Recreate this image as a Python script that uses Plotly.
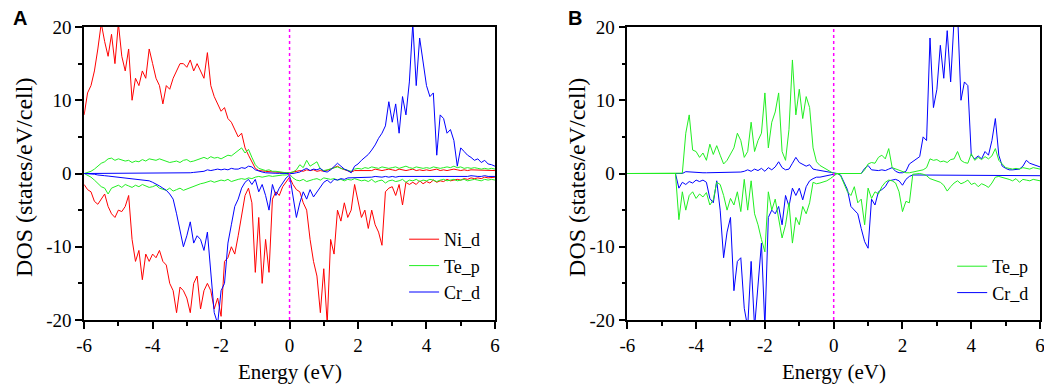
import plotly.graph_objects as go
from plotly.subplots import make_subplots

# Energy grid (eV), 0.1 eV steps from -6 to 6
energy = [round(-6 + 0.1 * i, 1) for i in range(121)]

# ---------- Panel A ----------
ni_d_up_A = [
    8, 11, 12, 14, 17, 20.5, 18, 16, 19, 15,
    20.5, 16, 14, 17, 10, 13, 12, 14, 13, 17,
    15, 13, 12, 9.5, 12, 11.5, 13, 14, 15, 15,
    14.5, 15.5, 14, 15, 14, 13, 16.5, 12, 10.5, 9.5,
    8.5, 9, 7.5, 7, 6, 5, 5.5, 3.5, 2.5, 1.5,
    0.7, 0.4, 0.3, 0.3, 0.25, 0.2, 0.2, 0.2, 0.15, 0.1,
    0.1, 0.2, 0.3, 0.4, 0.3, 0.5, 0.4, 0.5, 0.3, 0.4,
    0.3, 0.4, 0.6, 0.8, 1.0, 0.7, 0.5, 0.4, 0.2, 0.4,
    0.4, 0.5, 0.4, 0.5, 0.4, 0.6, 0.5, 0.4, 0.5, 0.6,
    0.5, 0.4, 0.6, 0.5, 0.4, 0.5, 0.6, 0.4, 0.5, 0.4,
    0.5, 0.4, 0.5, 0.6, 0.4, 0.5, 0.4, 0.5, 0.6, 0.5,
    0.4, 0.5, 0.4, 0.5, 0.5, 0.4, 0.5, 0.4, 0.4, 0.5,
    0.4,
]
ni_d_dn_A = [
    -1.5, -2.2, -2.5, -3.8, -4.2, -3.5, -2.8, -4.5, -5.5, -6,
    -5, -5.2, -4.5, -3, -9, -12, -10.5, -14.5, -11, -12,
    -11, -11.5, -10.5, -12, -12.5, -15, -16, -19, -15.5, -16,
    -17, -19, -15, -14, -18.5, -16, -15, -16, -18.5, -17,
    -19.5, -12, -11.5, -10, -11, -8.5, -6, -3, -2, -4,
    -13.5, -6, -15, -9, -13.5, -3.5, -2.5, -3, -1.8, -1.2,
    -0.5, -1.5, -2.2, -2.5, -4, -5, -9, -12, -14, -19,
    -13, -20.5, -9, -11, -5, -6.5, -4, -6, -5, -1.5,
    -4, -6, -5, -7.5, -5, -7, -8, -9.8, -2.5, -2,
    -1.8, -3, -1.5, -4.3, -1.2, -1.5, -1.2, -1.5, -1, -1.4,
    -1.1, -1.3, -0.9, -1.2, -1.0, -1.1, -0.8, -1.0, -0.9, -0.8,
    -0.9, -0.7, -0.8, -0.6, -0.7, -0.6, -0.7, -0.5, -0.6, -0.5,
    -0.5,
]
te_p_up_A = [
    0, 0.1, 0.3, 0.6, 1.0, 1.4, 1.6, 2.0, 2.1, 1.8,
    2.0, 1.9, 1.7, 1.8, 1.5, 1.7, 1.6, 1.9, 1.7, 2.0,
    1.9, 1.8, 2.0, 1.8, 1.6, 1.5, 1.6, 1.7, 1.5, 1.8,
    1.9, 1.6, 1.7, 1.9, 2.0, 2.2, 2.0, 2.3, 2.1, 2.2,
    2.0, 2.3, 2.5, 2.4, 2.8, 3.2, 3.5, 2.8, 3.3, 2.2,
    1.2, 0.7, 0.5, 0.4, 0.5, 0.3, 0.3, 0.2, 0.2, 0.1,
    0.1, 0.2, 0.5, 1.2, 0.8, 1.8, 1.0, 1.3, 1.6, 0.6,
    0.4, 0.5, 0.6, 0.8, 0.9, 0.7, 0.6, 0.4, 0.3, 0.6,
    0.7, 0.6, 0.8, 0.7, 0.9, 0.8, 0.7, 0.9, 0.8, 0.7,
    0.8, 0.9, 0.7, 0.8, 1.0, 0.8, 0.7, 0.9, 0.8, 0.7,
    0.8, 0.7, 0.9, 0.8, 0.7, 0.8, 0.9, 0.8, 1.0, 0.8,
    0.9, 0.7, 0.8, 0.7, 0.8, 0.7, 0.6, 0.7, 0.6, 0.7,
    0.6,
]
te_p_dn_A = [
    0, -0.2, -0.5, -0.9, -1.3, -1.8, -2.0, -2.8, -2.0, -1.8,
    -1.6, -1.9, -1.5, -1.7, -1.9, -1.6, -1.8, -1.5, -1.7, -1.9,
    -1.8, -1.6, -2.0, -2.1, -2.3, -2.0, -2.4, -2.2, -2.0, -2.3,
    -2.1, -1.9, -1.8, -1.6, -1.4, -1.3, -1.2, -1.0, -1.2, -1.1,
    -0.9, -1.0, -0.8, -1.1, -0.9, -0.8, -0.7, -0.8, -0.6, -0.7,
    -0.5, -0.4, -0.5, -0.4, -0.3, -0.4, -0.3, -0.3, -0.2, -0.2,
    -0.1, -0.6, -0.9, -1.0, -0.8, -1.1, -0.9, -0.8, -0.7, -0.9,
    -0.6, -0.7, -0.8, -0.7, -0.9, -0.8, -1.0, -0.8, -0.9, -0.7,
    -0.8, -1.0, -0.9, -1.1, -0.8, -1.2, -1.0, -0.9, -1.3, -1.0,
    -0.9, -1.1, -1.0, -0.8, -1.2, -0.9, -1.0, -0.8, -1.1, -0.9,
    -1.0, -0.8, -0.9, -1.1, -0.9, -0.8, -1.0, -0.9, -0.8, -1.0,
    -0.9, -0.8, -1.0, -0.9, -0.8, -0.9, -1.0, -0.8, -0.9, -0.8,
    -0.9,
]
cr_d_up_A = [
    0, 0, 0, 0, 0, 0, 0, 0, 0, 0,
    0, 0, 0.02, 0.02, 0.03, 0.03, 0.04, 0.04, 0.05, 0.05,
    0.05, 0.05, 0.06, 0.06, 0.07, 0.07, 0.08, 0.08, 0.09, 0.1,
    0.1, 0.1, 0.15, 0.2, 0.3, 0.3, 0.5, 0.4, 0.5, 0.6,
    0.5, 0.6, 0.5, 0.7, 0.6, 0.6, 0.8, 0.7, 1.0, 0.9,
    0.5, 0.3, 0.2, 0.1, 0.05, 0.05, 0.03, 0.02, 0.01, 0,
    0, 0, 0.1, 0.2, 0.5, 0.7, 0.4, 0.6, 0.5, 0.7,
    0.3, 0.2, 0.5, 0.9, 1.4, 1.0, 0.6, 0.4, 0.1, 1.0,
    1.3, 1.8, 2.2, 2.6, 3.2, 3.9, 4.8, 5.5, 6.5, 9.8,
    7.0, 9.5, 5.5, 10.5, 8.0, 12.5, 20.5, 12, 18.5, 15,
    12, 10.5, 11, 2.5, 8, 7.5, 5.5, 6, 4.5, 1,
    3.5, 3, 2.5, 2.2, 1.8, 2.0, 1.5, 1.8, 1.3, 1.2,
    1.0,
]
cr_d_dn_A = [
    0, 0, -0.05, -0.1, -0.2, -0.3, -0.3, -0.35, -0.4, -0.5,
    -0.5, -0.6, -0.6, -0.7, -0.7, -0.8, -0.8, -0.9, -0.9, -1.0,
    -1.2, -1.4, -1.7, -2.0, -2.3, -2.8, -3.5, -5.5, -8, -10,
    -8.5, -6.6, -9.5, -8.5, -9, -10.5, -8, -14, -19, -20.5,
    -16, -15, -9.5, -7, -4.5, -3.5, -2, -1.2, -0.8, -1.5,
    -0.8, -2.5, -1.5, -3, -5, -1.5, -3, -2, -1.2, -0.6,
    -0.2, -3, -6, -4, -2.5, -3.5, -2.2, -3.2, -2.5, -1.8,
    -1.2, -0.9, -1.3, -0.8, -0.9, -0.7, -0.8, -0.6, -0.6, -0.5,
    -0.5, -0.5, -0.6, -0.5, -0.5, -0.4, -0.5, -0.5, -0.4, -0.5,
    -0.4, -0.5, -0.4, -0.4, -0.5, -0.4, -0.4, -0.5, -0.4, -0.4,
    -0.4, -0.4, -0.5, -0.4, -0.4, -0.4, -0.5, -0.4, -0.4, -0.4,
    -0.4, -0.4, -0.4, -0.3, -0.4, -0.4, -0.4, -0.3, -0.4, -0.4,
    -0.4,
]

# ---------- Panel B ----------
te_p_up_B = [
    0, 0, 0, 0, 0, 0, 0, 0, 0, 0,
    0, 0, 0, 0, 0, 0, 0.05, 5.5, 8, 3.2,
    3.0, 2.2, 2.8, 1.8, 4.0, 2.6, 3.8, 2.5, 1.3, 1.8,
    2.6, 3.5, 5.5, 4.5, 2.2, 3.0, 7, 3, 4.5, 5.5,
    11, 3.5, 7, 8.4, 11, 3, 1.8, 6, 15.5, 8,
    11.5, 7.5, 10.5, 9, 3.5, 1.6, 1.1, 0.8, 0.5, 0.3,
    0, 0, 0, 0, 0, 0, 0, 0, 0, 0.5,
    1.3, 1.5, 1.4, 2.2, 2.5, 2.0, 3.4, 0.8, 0.6, 0.4,
    0.2, 0.1, 0.1, 0.2, 0.3, 0.4, 0.5, 0.8, 2.0, 1.8,
    1.9, 1.6, 1.7, 1.5, 1.9, 2.0, 3.0, 1.8, 1.5, 1.4,
    2.7, 1.8, 2.2, 1.9, 2.3, 2.0, 2.4, 3.4, 1.8, 1.3,
    0.8, 0.7, 0.6, 0.7, 0.6, 0.8, 0.7, 0.6, 0.8, 0.7,
    0.6,
]
te_p_dn_B = [
    0, 0, 0, 0, 0, 0, 0, 0, 0, 0,
    0, 0, 0, 0, 0, -6.3, -2.5, -5, -3, -2.5,
    -3.4, -2.8, -3.2, -2.6, -4.3, -3.6, -1.2, -1.5, -3.0, -5.0,
    -3.4, -4.3, -2.5, -5.2, -0.8, -5, -1.0, -5.5, -7, -9,
    -10.7, -2.5, -5, -3.5, -6, -8.8, -7, -4, -9.5, -6,
    -7, -4.5, -5.5, -4, -1.2, -1.4, -1.3, -1.2, -1.0, -0.7,
    -0.3, 0, -0.3, -1.5, -2.5, -3.0, -1.8, -4, -3.5, -7,
    -2, -3.4, -2.5, -2.8, -1.8, -1.2, -0.9, -1.0, -1.3, -2.5,
    -5.2, -3.8, -4.0, -0.1, -0.05, 0, -0.1, -0.3, -0.7, -0.9,
    -1.1, -1.2, -1.6, -2.4, -1.8, -1.3, -1.0, -1.4, -1.2, -0.9,
    -1.5, -1.3, -1.8, -1.4, -1.6, -1.9, -1.3, -0.5, -0.4, -0.5,
    -0.6, -0.8, -1.0, -0.7, -1.2, -0.8, -0.9, -1.0, -0.8, -0.9,
    -1.0,
]
cr_d_up_B = [
    0, 0, 0, 0, 0, 0, 0, 0, 0, 0,
    0, 0, 0, 0, 0, 0, 0, 0.25, 0.2, 0.15,
    0.1, 0.1, 0.1, 0.1, 0.1, 0.1, 0.1, 0.1, 0.1, 0.1,
    0.15, 0.15, 0.2, 0.2, 0.3, 0.5, 0.3, 0.6, 0.4, 0.7,
    0.3, 0.8, 0.5, 0.9, 1.6, 0.8, 0.5, 0.6, 1.4, 2.2,
    1.5, 1.2, 1.0, 1.2, 0.6, 0.5, 0.4, 0.3, 0.2, 0.1,
    0, 0, 0, 0, 0, 0, 0, 0, 0, 0.7,
    1.1, 0.5, 0.4, 0.4, 0.5, 0.4, 0.6, 0.8, 0.3, 0.1,
    0.1, 0.3, 1.3, 1.6, 2.0, 2.3, 5.0, 4.5, 18.5, 9,
    11.5, 17.5, 13, 19.5, 12.5, 21, 22, 10, 12.5, 12,
    2.5, 2.0, 2.4, 2.0, 3.0, 2.5, 4.5, 7.5, 2.5, 1.0,
    0.7, 0.5, 0.5, 0.5, 0.6, 1.0, 1.8, 1.4, 1.2, 1.0,
    0.9,
]
cr_d_dn_B = [
    0, 0, 0, 0, 0, 0, 0, 0, 0, 0,
    0, 0, 0, 0, 0, -2.0, -1.2, -1.5, -1.1, -1.3,
    -0.9, -1.1, -0.9, -1.2, -3.4, -4.0, -1.0, -5, -11.5, -8,
    -6, -16, -12, -11.5, -18.4, -21, -12, -21, -15, -9.5,
    -21, -6, -5, -5.5, -4.5, -7, -3, -4.5, -2, -3,
    -2, -3.6, -1.8, -1.0, -0.7, -0.5, -0.5, -0.4, -0.3, -0.2,
    -0.1, 0, -0.2, -1.2, -2.2, -4.5, -5.0, -5.5, -7.5, -9.3,
    -10.2, -3.5, -4.3, -2.5, -2.2, -1.8, -1.0, -0.9, -0.8, -1.0,
    -1.6, -0.8, -0.4, -0.2, -0.2, -0.2, -0.2, -0.2, -0.2, -0.2,
    -0.2, -0.2, -0.25, -0.25, -0.25, -0.25, -0.25, -0.25, -0.25, -0.25,
    -0.25, -0.25, -0.3, -0.3, -0.3, -0.3, -0.3, -0.3, -0.3, -0.3,
    -0.3, -0.3, -0.3, -0.3, -0.3, -0.3, -0.3, -0.3, -0.3, -0.3,
    -0.3,
]

x_tickvals = [-6, -4, -2, 0, 2, 4, 6]
x_ticktext = ["-6", "-4", "-2", "0", "2", "4", "6"]
y_tickvals = [-20, -10, 0, 10, 20]
y_ticktext = ["-20", "-10", "0", "10", "20"]

RED = "#ff0000"
GREEN = "#22ee22"
BLUE = "#0000ff"
SERIF = "Liberation Serif"

for arr in [ni_d_up_A, ni_d_dn_A, te_p_up_A, te_p_dn_A, cr_d_up_A, cr_d_dn_A,
            te_p_up_B, te_p_dn_B, cr_d_up_B, cr_d_dn_B]:
    assert len(arr) == len(energy), len(arr)

fig = make_subplots(rows=1, cols=2)

def add(y, name, color, col, show, legend, rank):
    fig.add_trace(go.Scatter(x=energy, y=y, mode="lines", name=name,
                             line=dict(color=color, width=1),
                             showlegend=show, legend=legend, legendrank=rank),
                  row=1, col=col)

# Panel A
add(ni_d_up_A, "Ni_d", RED, 1, True, "legend", 1)
add(ni_d_dn_A, "Ni_d", RED, 1, False, "legend", 1)
add(te_p_up_A, "Te_p", GREEN, 1, True, "legend", 2)
add(te_p_dn_A, "Te_p", GREEN, 1, False, "legend", 2)
add(cr_d_up_A, "Cr_d", BLUE, 1, True, "legend", 3)
add(cr_d_dn_A, "Cr_d", BLUE, 1, False, "legend", 3)
# Panel B
add(cr_d_up_B, "Cr_d", BLUE, 2, True, "legend2", 3)
add(cr_d_dn_B, "Cr_d", BLUE, 2, False, "legend2", 3)
add(te_p_up_B, "Te_p", GREEN, 2, True, "legend2", 2)
add(te_p_dn_B, "Te_p", GREEN, 2, False, "legend2", 2)

# The page body has an 8px default margin; the figure is sized to fill the rest.
OFF = 8
W, H = 1052 - OFF, 388 - OFF
MT, MB = 27 - OFF, 388 - 320
PH = H - MT - MB

def px_x(p):
    return (p - OFF) / W

def px_y(p):
    return (H - MB - (p - OFF)) / PH

dom_A = [px_x(77), px_x(493)]
dom_B = [px_x(627), px_x(1045)]

axis_common = dict(showline=True, linecolor="black", linewidth=1.5, mirror=True,
                   showgrid=False, zeroline=False, ticks="outside", ticklen=7,
                   tickwidth=1.5, tickcolor="black",
                   tickfont=dict(family=SERIF, size=19, color="black"))

for i, dom in [(1, dom_A), (2, dom_B)]:
    fig.update_xaxes(row=1, col=i, domain=dom, range=[-6, 6], tickmode="array",
                     tickvals=x_tickvals, ticktext=x_ticktext,
                     minor=dict(tickmode="linear", tick0=0, dtick=1, ticks="outside",
                                ticklen=4, tickwidth=1.5, tickcolor="black"),
                     **axis_common)
    fig.update_yaxes(row=1, col=i, range=[-20, 20], tickmode="array",
                     tickvals=y_tickvals, ticktext=y_ticktext,
                     minor=dict(tickmode="linear", tick0=0, dtick=5, ticks="outside",
                                ticklen=4, tickwidth=1.5, tickcolor="black"),
                     **axis_common)
    fig.add_vline(x=0, line=dict(color="#ff00ff", width=1.5, dash="dot"), row=1, col=i)

ann = []
for label, x in [("A", 12), ("B", 574)]:
    ann.append(dict(text="<b>%s</b>" % label, x=px_x(x), y=px_y(OFF), xref="paper",
                    yref="paper", showarrow=False, xanchor="center", yanchor="top",
                    borderpad=0, yshift=2,
                    font=dict(family="Liberation Sans", size=20, color="black")))
for x in [16, 576]:
    ann.append(dict(text="DOS (states/eV/cell)", x=px_x(x), y=px_y(177), xref="paper",
                    yref="paper", showarrow=False, textangle=-90, xanchor="center",
                    yanchor="middle", font=dict(family=SERIF, size=24, color="black")))
for x in [285, 836]:
    ann.append(dict(text="Energy (eV)", x=px_x(x), y=px_y(372), xref="paper",
                    yref="paper", showarrow=False, xanchor="center", yanchor="middle",
                    font=dict(family=SERIF, size=21, color="black")))

legend_common = dict(bgcolor="rgba(0,0,0,0)", borderwidth=0,
                     font=dict(family=SERIF, size=18, color="black"),
                     xanchor="left", yanchor="top", tracegroupgap=0)

fig.update_layout(
    width=W, height=H, margin=dict(l=0, r=0, t=MT, b=MB),
    paper_bgcolor="white", plot_bgcolor="white",
    annotations=ann,
    legend=dict(x=px_x(401), y=px_y(221), **legend_common),
    legend2=dict(x=px_x(956), y=px_y(248), **legend_common),
)

fig.write_html("out.html")
